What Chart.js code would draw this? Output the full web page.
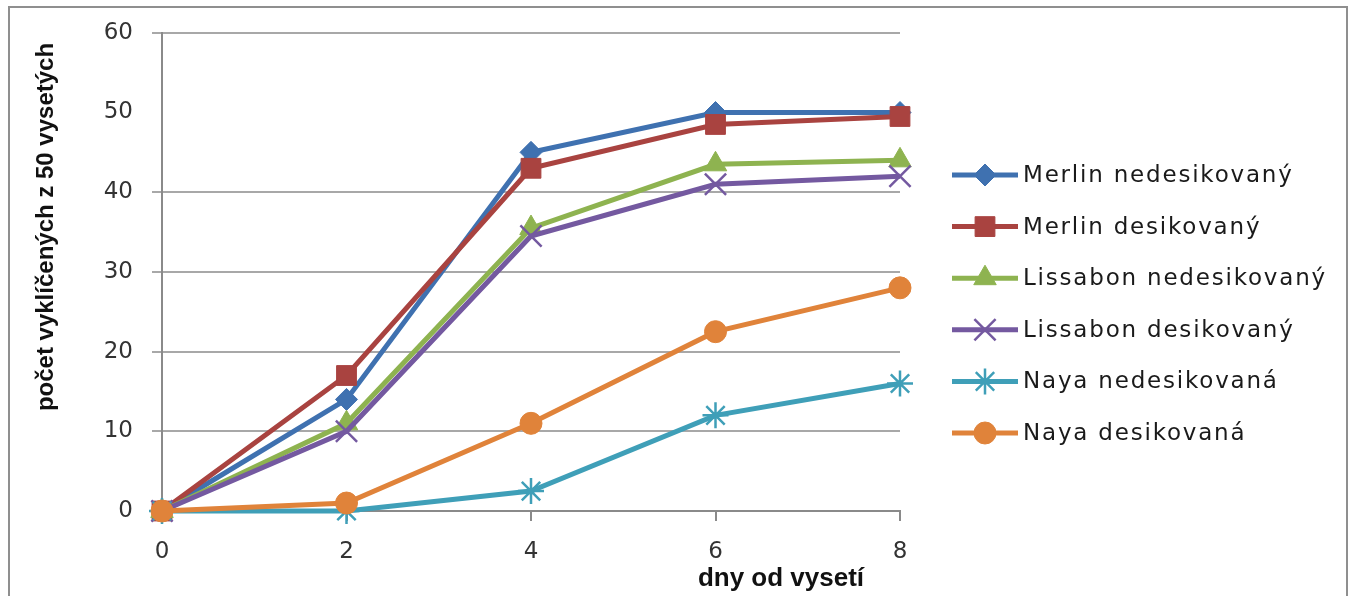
<!DOCTYPE html>
<html lang="cs">
<head>
<meta charset="UTF-8">
<title>Klíčivost</title>
<script src="https://cdn.jsdelivr.net/npm/chart.js"></script>
<style>
  body { margin: 0; background: #fff; overflow: hidden; }
  .wrap { position: relative; width: 1351px; height: 596px; }
  .frame {
    position: absolute; left: 8px; top: 6px; width: 1336px; height: 600px;
    border: 2px solid #8f8f8f; border-bottom: none; pointer-events: none;
  }
</style>
</head>
<body>
<div class="wrap">
  <canvas id="chart"></canvas>
  <div class="frame"></div>
</div>
<script>
// data
const days = [0, 2, 4, 6, 8];
const seriesNames = ['Merlin nedesikovaný', 'Merlin desikovaný', 'Lissabon nedesikovaný',
                     'Lissabon desikovaný', 'Naya nedesikovaná', 'Naya desikovaná'];
const merlinNedes = [0, 14, 45, 50, 50];
const merlinDes = [0, 17, 43, 48.5, 49.5];
const lissabonNedes = [0, 11, 35.5, 43.5, 44];
const lissabonDes = [0, 10, 34.5, 41, 42];
const nayaNedes = [0, 0, 2.5, 12, 16];
const nayaDes = [0, 1, 11, 22.5, 28];
const yTickValues = [0, 10, 20, 30, 40, 50, 60];
const xTickValues = [0, 2, 4, 6, 8];
const yTitle = 'počet vyklíčených z 50 vysetých';
const xTitle = 'dny od vysetí';

const values = [merlinNedes, merlinDes, lissabonNedes, lissabonDes, nayaNedes, nayaDes];
const colors = ['#3f71b0', '#a94340', '#8eb350', '#7459a0', '#3f9fb8', '#e0833a'];
const styles = ['rectRot', 'rect', 'triangle', 'crossRot', 'star', 'circle'];
const radii = [11, 14, 13, 15, 13, 11];
const markerLines = [1, 1, 1, 2.5, 2.5, 1];

Chart.defaults.font.family = 'DejaVu Sans';

const datasets = values.map((vals, i) => ({
  label: seriesNames[i],
  data: days.map((d, j) => ({ x: d, y: vals[j] })),
  borderColor: colors[i],
  backgroundColor: colors[i],
  borderWidth: 5,
  tension: 0,
  pointStyle: styles[i],
  pointRadius: radii[i],
  pointHoverRadius: radii[i],
  pointBorderWidth: markerLines[i],
  pointBackgroundColor: colors[i],
  pointBorderColor: colors[i],
  clip: false,
  order: values.length - i   // later series on top, like the original
}));

// titles and legend drawn by hand so they sit where the original has them
const extras = {
  id: 'extras',
  afterDraw(chart) {
    const ctx = chart.ctx;
    ctx.save();
    ctx.fillStyle = '#111';
    ctx.textAlign = 'center';
    ctx.textBaseline = 'middle';
    ctx.font = 'bold 24px "Liberation Sans"';
    ctx.save();
    ctx.translate(46, 227);
    ctx.rotate(-Math.PI / 2);
    ctx.fillText(yTitle, 0, 0);
    ctx.restore();
    ctx.font = 'bold 26px "Liberation Sans"';
    ctx.fillText(xTitle, 781, 579);

    ctx.textAlign = 'left';
    ctx.font = '23px "DejaVu Sans"';
    datasets.forEach((ds, i) => {
      const y = 175 + i * 51.6;
      ctx.strokeStyle = ds.borderColor;
      ctx.lineWidth = 5;
      ctx.beginPath();
      ctx.moveTo(952, y);
      ctx.lineTo(1018, y);
      ctx.stroke();
      ctx.fillStyle = ds.pointBackgroundColor;
      ctx.strokeStyle = ds.pointBorderColor;
      ctx.lineWidth = ds.pointBorderWidth;
      Chart.helpers.drawPoint(ctx, { pointStyle: ds.pointStyle, radius: ds.pointRadius, borderWidth: ds.pointBorderWidth }, 985, y);
      ctx.fillStyle = '#1a1a1a';
      ctx.letterSpacing = '1.8px';
      ctx.fillText(ds.label, 1023, y + 1);
      ctx.letterSpacing = '0px';
    });
    ctx.restore();
  }
};

// the original shows no gridline at 50
const gridColor = c => (yTickValues[c.index] === 50) ? 'rgba(0,0,0,0)' : '#a8a8a8';

new Chart(document.getElementById('chart'), {
  type: 'line',
  data: { datasets },
  options: {
    responsive: true,
    maintainAspectRatio: false,
    animation: false,
    layout: { padding: { top: 28, right: 451, bottom: 0, left: 0 } },
    plugins: { legend: { display: false }, tooltip: { enabled: false } },
    scales: {
      x: {
        type: 'linear', min: 0, max: 8,
        afterBuildTicks: s => { s.ticks = xTickValues.map(v => ({ value: v })); },
        afterFit: s => { s.height = 85; },
        ticks: { color: '#333', font: { size: 23 }, padding: 17 },
        grid: { drawOnChartArea: false, drawTicks: true, tickLength: 10, color: '#8a8a8a', lineWidth: 2 },
        border: { color: '#8a8a8a', width: 2 }
      },
      y: {
        min: 0, max: 60,
        afterBuildTicks: s => { s.ticks = yTickValues.map(v => ({ value: v })); },
        afterFit: s => { s.width = 162; },
        ticks: { color: '#333', font: { size: 23 }, padding: 19 },
        grid: { color: gridColor, lineWidth: 2, drawTicks: true, tickLength: 10 },
        border: { color: '#8a8a8a', width: 2 }
      }
    }
  },
  plugins: [extras]
});
</script>
</body>
</html>
